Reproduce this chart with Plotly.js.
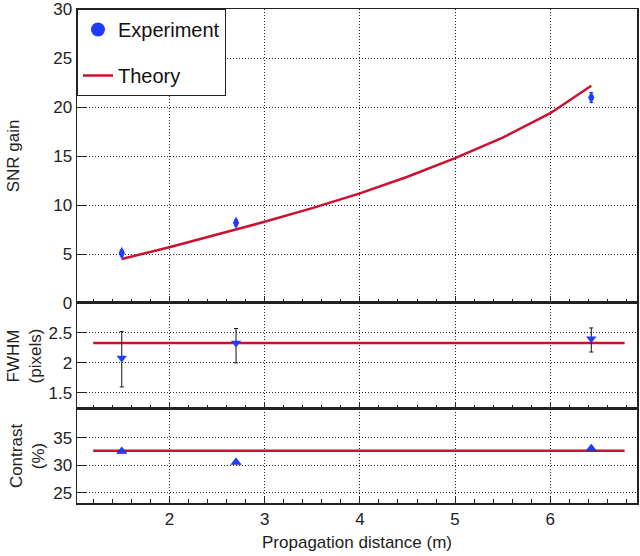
<!DOCTYPE html>
<html>
<head>
<meta charset="utf-8">
<script src="https://cdn.plot.ly/plotly-3.0.1.min.js"></script>
<style>html,body{margin:0;padding:0;background:#fff;}#chart{width:640px;height:556px;}</style>
</head>
<body>
<div id="chart"></div>
<script>
// ---- data ----
const expX = [1.5, 2.7, 6.43];
const snrExp = [5.1, 8.2, 21.0];
const snrErr = [0.3, 0.3, 0.5];
const theoryX = [1.5, 2.0, 2.5, 3.0, 3.5, 4.0, 4.5, 5.0, 5.5, 6.0, 6.43];
const snrTheory = [4.5, 5.7, 7.0, 8.3, 9.7, 11.2, 12.9, 14.8, 16.9, 19.4, 22.2];
const fwhmExp = [2.08, 2.33, 2.4];
const fwhmErrPlus = [0.44, 0.24, 0.18];
const fwhmErrMinus = [0.48, 0.33, 0.22];
const flatX = [1.2, 6.78];
const fwhmTheory = [2.33, 2.33];
const contrastExp = [32.5, 30.5, 33.0];
const contrastTheory = [32.6, 32.6];
const xTicks = [2, 3, 4, 5, 6];
const snrTicks = [0, 5, 10, 15, 20, 25, 30];
const fwhmTicks = [1.5, 2, 2.5];
const contrastTicks = [25, 30, 35];

const BLUE = '#1f3cff';
const RED = '#cc1030';
const INK = '#222';
const FONT = 'Liberation Sans, Arial, Helvetica, sans-serif';
const FS = 17;

const traces = [
  {x: [null], y: [null], type: 'scatter', mode: 'markers', name: 'Experiment',
   marker: {symbol: 'circle', size: 14, color: BLUE}, legendgroup: 'a', xaxis: 'x', yaxis: 'y'},
  {x: theoryX, y: snrTheory, type: 'scatter', mode: 'lines', name: 'Theory',
   line: {color: RED, width: 2.5}, legendgroup: 'b', xaxis: 'x', yaxis: 'y'},
  {x: expX, y: snrExp, type: 'scatter', mode: 'markers', showlegend: false,
   marker: {symbol: 'diamond-tall', size: 9, color: BLUE},
   error_y: {type: 'data', array: snrErr, color: BLUE, thickness: 1, width: 2},
   xaxis: 'x', yaxis: 'y'},
  {x: flatX, y: fwhmTheory, type: 'scatter', mode: 'lines', showlegend: false,
   line: {color: RED, width: 2.5}, xaxis: 'x2', yaxis: 'y2'},
  {x: expX, y: fwhmExp, type: 'scatter', mode: 'markers', showlegend: false,
   marker: {symbol: 'triangle-down', size: 9, color: BLUE},
   error_y: {type: 'data', symmetric: false, array: fwhmErrPlus, arrayminus: fwhmErrMinus,
             color: '#111', thickness: 1, width: 2},
   xaxis: 'x2', yaxis: 'y2'},
  {x: flatX, y: contrastTheory, type: 'scatter', mode: 'lines', showlegend: false,
   line: {color: RED, width: 2.5}, xaxis: 'x3', yaxis: 'y3'},
  {x: expX, y: contrastExp, type: 'scatter', mode: 'markers', showlegend: false,
   marker: {symbol: 'triangle-up', size: 9, color: BLUE, line: {color: '#1a1a8a', width: 0.5}},
   xaxis: 'x3', yaxis: 'y3'}
];

function xAxis(anchor, showLabels) {
  return {
    anchor: anchor, domain: [0, 1], range: [1.03, 6.91],
    tickmode: 'array', tickvals: xTicks, showticklabels: showLabels,
    ticks: 'inside', ticklen: 7, tickwidth: 1, tickcolor: INK,
    minor: {dtick: 0.2, tick0: 0, ticks: 'inside', ticklen: 4, tickcolor: INK, showgrid: false},
    showgrid: true, griddash: '1px,2px', gridcolor: INK, gridwidth: 1,
    showline: true, mirror: true, linecolor: INK, linewidth: 1.5, zeroline: false,
    ticklabeloverflow: 'allow',
    tickfont: {size: FS, color: '#222', family: FONT}
  };
}
function yAxis(anchor, domain, range, ticks, title, standoff) {
  return {
    anchor: anchor, domain: domain, range: range,
    tickmode: 'array', tickvals: ticks,
    ticks: 'inside', ticklen: 10, tickwidth: 1, tickcolor: INK,
    showgrid: true, griddash: '1px,2px', gridcolor: INK, gridwidth: 1,
    showline: true, mirror: true, linecolor: INK, linewidth: 1.5, zeroline: false,
    ticklabeloverflow: 'allow',
    tickfont: {size: FS, color: '#222', family: FONT},
    title: {text: title, font: {size: FS, color: '#222', family: FONT}, standoff: standoff}
  };
}

const layout = {
  width: 640, height: 556,
  margin: {l: 77, r: 3, t: 9, b: 53},
  paper_bgcolor: '#fff', plot_bgcolor: '#fff',
  font: {family: FONT, color: '#222'},
  showlegend: true,
  legend: {x: 0, y: 1, xanchor: 'left', yanchor: 'top', bgcolor: '#fff',
           bordercolor: INK, borderwidth: 1, font: {size: 20, color: '#111', family: FONT},
           traceorder: 'grouped', tracegroupgap: 17},
  xaxis: xAxis('y', false),
  xaxis2: xAxis('y2', false),
  xaxis3: Object.assign(xAxis('y3', true), {title: {text: 'Propagation distance (m)', font: {size: FS, color: '#222', family: FONT}, standoff: 8}}),
  yaxis: yAxis('x', [0.4049, 1], [0, 30.05], snrTicks, 'SNR gain', 29),
  yaxis2: yAxis('x2', [0.1903, 0.4049], [1.233, 2.995], fwhmTicks, 'FWHM<br>(pixels)', 2),
  yaxis3: yAxis('x3', [0, 0.1903], [23.1, 40.2], contrastTicks, 'Contrast<br>(%)', 4)
};

Plotly.newPlot('chart', traces, layout, {displayModeBar: false, staticPlot: true});
</script>
</body>
</html>
